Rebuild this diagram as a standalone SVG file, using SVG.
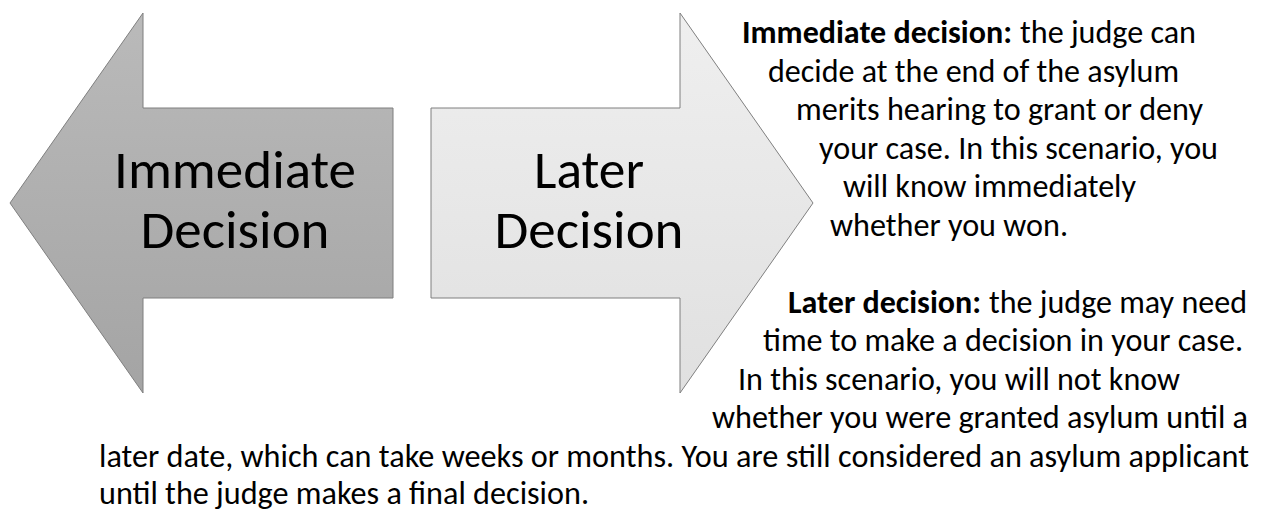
<svg xmlns="http://www.w3.org/2000/svg" width="1261" height="512" viewBox="0 0 1261 512">
  <defs>
    <linearGradient id="gradDark" x1="0" y1="0" x2="0" y2="1">
      <stop offset="0" stop-color="#bababa"/>
      <stop offset="1" stop-color="#a4a4a4"/>
    </linearGradient>
    <linearGradient id="gradLight" x1="0" y1="0" x2="0" y2="1">
      <stop offset="0" stop-color="#efefef"/>
      <stop offset="1" stop-color="#e0e0e0"/>
    </linearGradient>
  </defs>
  <style>
    .arrow { stroke: #7f7f7f; stroke-width: 1; stroke-linejoin: miter; }
    .big { font-family: Carlito, Lato, "Liberation Sans", sans-serif; font-size: 54px; fill: #000; text-anchor: middle; }
    .body { font-family: Carlito, Lato, "Liberation Sans", sans-serif; font-size: 32px; fill: #000; }
    .bold { font-weight: 700; }
  </style>
  <rect width="1261" height="512" fill="#ffffff"/>

  <g id="node-immediate">
    <polygon class="arrow" fill="url(#gradDark)" points="10,203 143,13 143,108 393,108 393,298 143,298 143,393"/>
    <text class="big" x="235" y="188" textLength="242" lengthAdjust="spacingAndGlyphs">Immediate</text>
    <text class="big" x="235" y="248" textLength="189" lengthAdjust="spacingAndGlyphs">Decision</text>
  </g>

  <g id="node-later">
    <polygon class="arrow" fill="url(#gradLight)" points="431,108 680,108 680,13 813,203 680,393 680,298 431,298"/>
    <text class="big" x="589" y="188" textLength="110" lengthAdjust="spacingAndGlyphs">Later</text>
    <text class="big" x="589" y="248" textLength="189" lengthAdjust="spacingAndGlyphs">Decision</text>
  </g>

  <g id="node-description">
    <text class="body bold" x="742" y="43" textLength="270" lengthAdjust="spacingAndGlyphs">Immediate decision:</text>
    <text class="body" x="1020" y="43" textLength="176" lengthAdjust="spacingAndGlyphs">the judge can</text>
    <text class="body" x="768" y="81.6" textLength="411" lengthAdjust="spacingAndGlyphs">decide at the end of the asylum</text>
    <text class="body" x="796" y="120.2" textLength="407" lengthAdjust="spacingAndGlyphs">merits hearing to grant or deny</text>
    <text class="body" x="819" y="158.8" textLength="399" lengthAdjust="spacingAndGlyphs">your case. In this scenario, you</text>
    <text class="body" x="843" y="197.4" textLength="293" lengthAdjust="spacingAndGlyphs">will know immediately</text>
    <text class="body" x="830" y="236" textLength="238" lengthAdjust="spacingAndGlyphs">whether you won.</text>

    <text class="body bold" x="788" y="313" textLength="193" lengthAdjust="spacingAndGlyphs">Later decision:</text>
    <text class="body" x="989" y="313" textLength="258" lengthAdjust="spacingAndGlyphs">the judge may need</text>
    <text class="body" x="763" y="351.4" textLength="480" lengthAdjust="spacingAndGlyphs">time to make a decision in your case.</text>
    <text class="body" x="738" y="389.8" textLength="442" lengthAdjust="spacingAndGlyphs">In this scenario, you will not know</text>
    <text class="body" x="712" y="428.2" textLength="536" lengthAdjust="spacingAndGlyphs">whether you were granted asylum until a</text>
    <text class="body" x="99" y="466.6" textLength="1150" lengthAdjust="spacingAndGlyphs">later date, which can take weeks or months. You are still considered an asylum applicant</text>
    <text class="body" x="99" y="504" textLength="490" lengthAdjust="spacingAndGlyphs">until the judge makes a final decision.</text>
  </g>
</svg>
